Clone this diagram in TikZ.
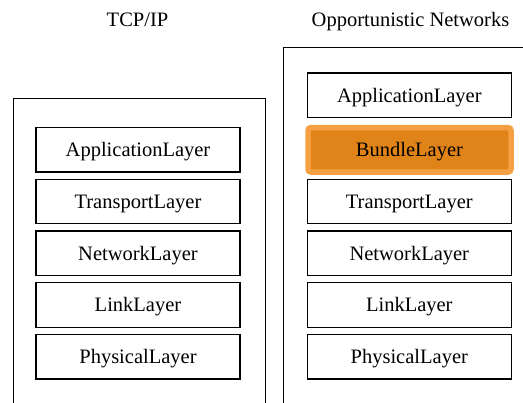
\documentclass[tikz,border=0pt]{standalone}
\usepackage{fontspec}
\setmainfont{Liberation Serif}
\definecolor{bundlefill}{HTML}{E0841A}
\definecolor{bundleedge}{HTML}{F4A043}
\tikzset{
  txt/.style={font=\fontsize{20.5}{24}\selectfont},
  boxtxt/.style={txt, text height=14pt, text depth=0pt},
  layer/.style={boxtxt, draw=black, line width=1.2pt, minimum width=204pt,
    minimum height=44.5pt, inner sep=0pt, fill=white},
  bundle/.style={boxtxt, draw=bundleedge, fill=bundlefill, line width=5.5pt,
    rounded corners=3pt, minimum width=203pt, minimum height=44.5pt, inner sep=0pt},
  stack/.style={draw=black, line width=1.2pt}
}
\begin{document}
\begin{tikzpicture}[x=1pt,y=-1pt]
  \useasboundingbox (0,0) rectangle (523,403);
  \clip (0,0) rectangle (523,403);

  % column titles
  \node[boxtxt] (tcptitle) at (137.5,20) {TCP/IP};
  \node[boxtxt] (opptitle) at (410.5,20) {Opportunistic Networks};

  % stack frames (open below and, on the right, beyond the page)
  \draw[stack] (13.3,98.3) rectangle (265.7,420);
  \draw[stack] (283.3,47.3) rectangle (540,420);

  % TCP/IP layers
  \node[layer] (tapp)  at (138,149.8) {ApplicationLayer};
  \node[layer] (ttrn)  at (138,201.5) {TransportLayer};
  \node[layer] (tnet)  at (138,253.3) {NetworkLayer};
  \node[layer] (tlink) at (138,305)   {LinkLayer};
  \node[layer] (tphy)  at (138,356.7) {PhysicalLayer};

  % opportunistic network layers
  \node[layer]  (oapp)  at (409.3,95.2)  {ApplicationLayer};
  \node[bundle] (obun)  at (409.5,149.8) {BundleLayer};
  \node[layer]  (otrn)  at (409.3,201.5) {TransportLayer};
  \node[layer]  (onet)  at (409.3,253.3) {NetworkLayer};
  \node[layer]  (olink) at (409.3,305)   {LinkLayer};
  \node[layer]  (ophy)  at (409.3,356.7) {PhysicalLayer};
\end{tikzpicture}
\end{document}
